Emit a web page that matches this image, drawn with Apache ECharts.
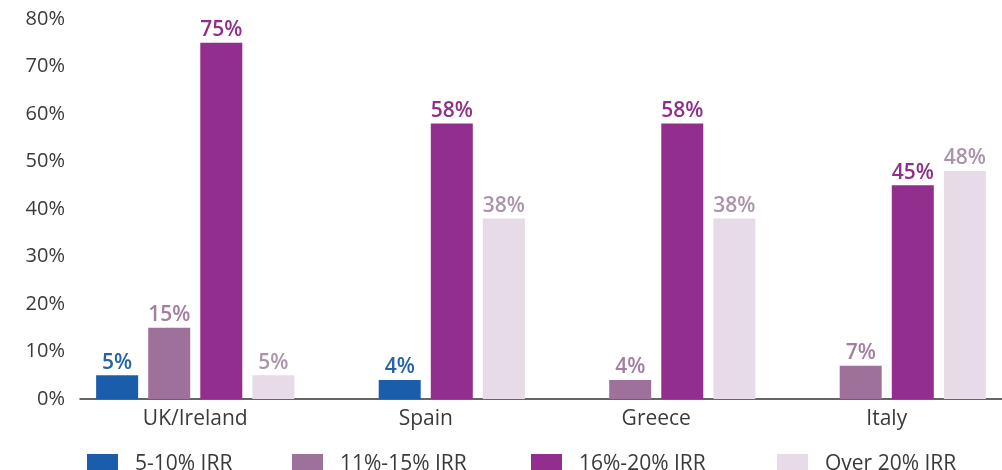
<!DOCTYPE html>
<html>
<head>
<meta charset="utf-8">
<title>IRR expectations by market</title>
<script src="https://cdn.jsdelivr.net/npm/echarts@6/dist/echarts.min.js"></script>
<style>
  html, body { margin: 0; padding: 0; background: #ffffff; }
  #chart { width: 1002px; height: 470px; }
</style>
</head>
<body>
<div id="chart"></div>
<script>
// Markets along the x axis
const categories = ['UK/Ireland', 'Spain', 'Greece', 'Italy'];

// IRR bands (legend order) and their share per market, in percent; null = no bar
const seriesNames = ['5-10% IRR', '11%-15% IRR', '16%-20% IRR', 'Over 20% IRR'];
const irr5to10   = [5,    4,    null, null];
const irr11to15  = [15,   null, 4,    7];
const irr16to20  = [75,   58,   58,   45];
const irrOver20  = [5,    38,   38,   48];

// Y axis ticks
const yTicks = [0, 10, 20, 30, 40, 50, 60, 70, 80];

const bandValues = [irr5to10, irr11to15, irr16to20, irrOver20];
const barColors   = ['#1a5eab', '#9d7199', '#922e8d', '#e6dbe6'];
const labelColors = ['#2563a6', '#a47da2', '#8f2f8b', '#ab94ab'];
const FONT = '"Open Sans", Lato, sans-serif';

// Bars inside each market are packed to the right: present bands fill the last slots.
const SLOTS = 4;
const slotData = Array.from({ length: SLOTS }, () => categories.map(() => '-'));
categories.forEach((cat, ci) => {
  const present = [];
  bandValues.forEach((arr, si) => { if (arr[ci] != null) present.push(si); });
  const offset = SLOTS - present.length;
  present.forEach((si, j) => {
    slotData[offset + j][ci] = {
      value: bandValues[si][ci],
      itemStyle: { color: barColors[si] },
      label: { color: labelColors[si] }
    };
  });
});

const slotSeries = slotData.map((data, k) => ({
  type: 'bar',
  name: 'slot' + k,
  xAxisIndex: 0,
  yAxisIndex: 0,
  barWidth: 42,
  barGap: '24%',
  data: data,
  label: {
    show: true,
    position: 'top',
    distance: 2,
    formatter: '{c}%',
    fontFamily: FONT,
    fontSize: 21,
    fontWeight: 600
  },
  silent: true
}));

// Empty series carrying the band names and colours for the legend
const legendSeries = seriesNames.map((name, i) => ({
  type: 'bar',
  name: name,
  xAxisIndex: 1,
  yAxisIndex: 0,
  data: [],
  itemStyle: { color: barColors[i] }
}));

const legendLefts = [82, 287, 526, 772];
const legends = seriesNames.map((name, i) => ({
  data: [name],
  left: legendLefts[i],
  top: 449,
  icon: 'rect',
  itemWidth: 31,
  itemHeight: 21,
  itemGap: 0,
  selectedMode: false,
  textStyle: { fontFamily: FONT, fontSize: 21, color: '#3a3a3a', padding: [0, 0, 0, 12] }
}));

const chart = echarts.init(document.getElementById('chart'), null, { renderer: 'canvas' });
chart.setOption({
  backgroundColor: '#ffffff',
  animation: false,
  grid: { left: 80, top: 19, width: 932, height: 380 },
  legend: legends,
  xAxis: [
    {
      type: 'category',
      data: categories,
      axisLine: { show: true, lineStyle: { color: '#333333', width: 1.5 } },
      axisTick: { show: false },
      axisLabel: { margin: 10, fontFamily: FONT, fontSize: 21, color: '#3a3a3a' }
    },
    { type: 'category', data: categories, show: false }
  ],
  yAxis: {
    type: 'value',
    min: yTicks[0],
    max: yTicks[yTicks.length - 1],
    interval: yTicks[1] - yTicks[0],
    axisLine: { show: false },
    axisTick: { show: false },
    splitLine: { show: false },
    axisLabel: {
      margin: 15,
      formatter: '{value}%',
      fontFamily: FONT,
      fontSize: 20,
      color: '#3a3a3a',
      padding: [9, 0, 0, 0]
    }
  },
  series: slotSeries.concat(legendSeries)
});
</script>
</body>
</html>
